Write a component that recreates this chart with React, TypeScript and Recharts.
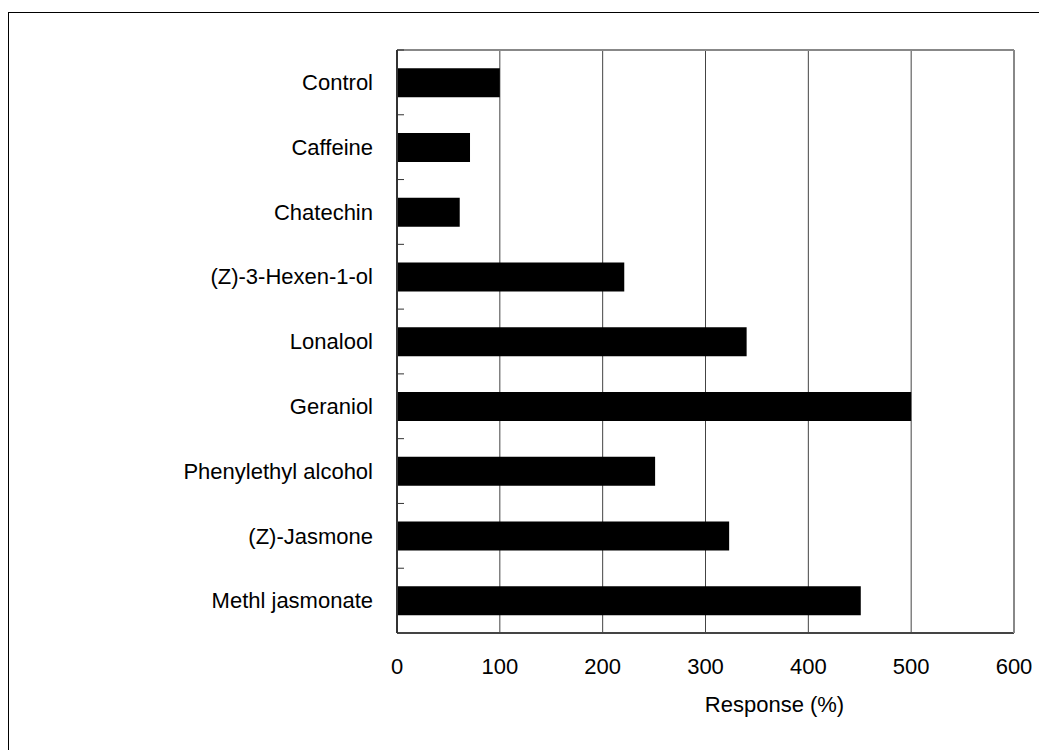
import React from 'react';
import { BarChart, Bar, XAxis, YAxis, CartesianGrid } from 'recharts';

const categories = [
  'Control',
  'Caffeine',
  'Chatechin',
  '(Z)-3-Hexen-1-ol',
  'Lonalool',
  'Geraniol',
  'Phenylethyl alcohol',
  '(Z)-Jasmone',
  'Methl jasmonate',
];
const responses = [100, 71, 61, 221, 340, 500, 251, 323, 451];
const xTicks = [0, 100, 200, 300, 400, 500, 600];

const data = categories.map((name, i) => ({ name, response: responses[i] }));

const CHART_W = 1030;
const CHART_H = 737;
const MARGIN = { top: 36, right: 24, left: 0, bottom: 0 };
const TOP_AXIS_H = 1;
const X_AXIS_H = 117;
const Y_AXIS_W = 388;
const PLOT_H = CHART_H - MARGIN.top - TOP_AXIS_H - MARGIN.bottom - X_AXIS_H;
const BAND = PLOT_H / categories.length;
const TICK_MARGIN = 24;

const FONT = '"Liberation Sans", Arial, sans-serif';

// category label plus the small inward tick at the upper boundary of its band
const CategoryTick = (props: any) => {
  const { x, y, payload } = props;
  const axisX = x + TICK_MARGIN;
  return (
    <g>
      <text x={x} y={y} dy="0.35em" textAnchor="end" fontSize={22} fill="#000" fontFamily={FONT}>
        {payload.value}
      </text>
      <line x1={axisX} x2={axisX + 7} y1={y - BAND / 2} y2={y - BAND / 2} stroke="#333" strokeWidth={1} />
    </g>
  );
};

const XLabel = (props: any) => {
  const { viewBox } = props;
  return (
    <text
      x={viewBox.x + viewBox.width / 2 + 69}
      y={viewBox.y + 79}
      textAnchor="middle"
      fontSize={22}
      fill="#000"
      fontFamily={FONT}
    >
      Response (%)
    </text>
  );
};

export default function App() {
  return (
    <div
      style={{
        position: 'fixed',
        left: 8,
        top: 12,
        width: 1100,
        height: 800,
        border: '1px solid #000',
        background: '#fff',
        fontFamily: FONT,
      }}
    >
      <BarChart
        width={CHART_W}
        height={CHART_H}
        data={data}
        layout="vertical"
        margin={MARGIN}
        barCategoryGap="28%"
      >
        <CartesianGrid horizontal={false} stroke="#444" strokeWidth={1} />
        <XAxis
          type="number"
          domain={[0, 600]}
          ticks={xTicks}
          height={X_AXIS_H}
          tickLine={false}
          tickSize={0}
          tickMargin={25}
          axisLine={{ stroke: '#444', strokeWidth: 2 }}
          tick={{ fontSize: 22, fill: '#000', fontFamily: FONT }}
          label={<XLabel />}
        />
        <XAxis
          xAxisId="top"
          orientation="top"
          type="number"
          domain={[0, 600]}
          height={TOP_AXIS_H}
          tick={false}
          tickLine={false}
          axisLine={{ stroke: '#888', strokeWidth: 2 }}
        />
        <YAxis
          type="category"
          dataKey="name"
          width={Y_AXIS_W}
          tickLine={false}
          tickSize={0}
          tickMargin={TICK_MARGIN}
          axisLine={{ stroke: '#333', strokeWidth: 2 }}
          tick={<CategoryTick />}
          interval={0}
        />
        <YAxis
          yAxisId="right"
          orientation="right"
          type="category"
          dataKey="name"
          width={1}
          tick={false}
          tickLine={false}
          axisLine={{ stroke: '#888', strokeWidth: 2 }}
        />
        <Bar dataKey="response" fill="#000" isAnimationActive={false} />
      </BarChart>
    </div>
  );
}
